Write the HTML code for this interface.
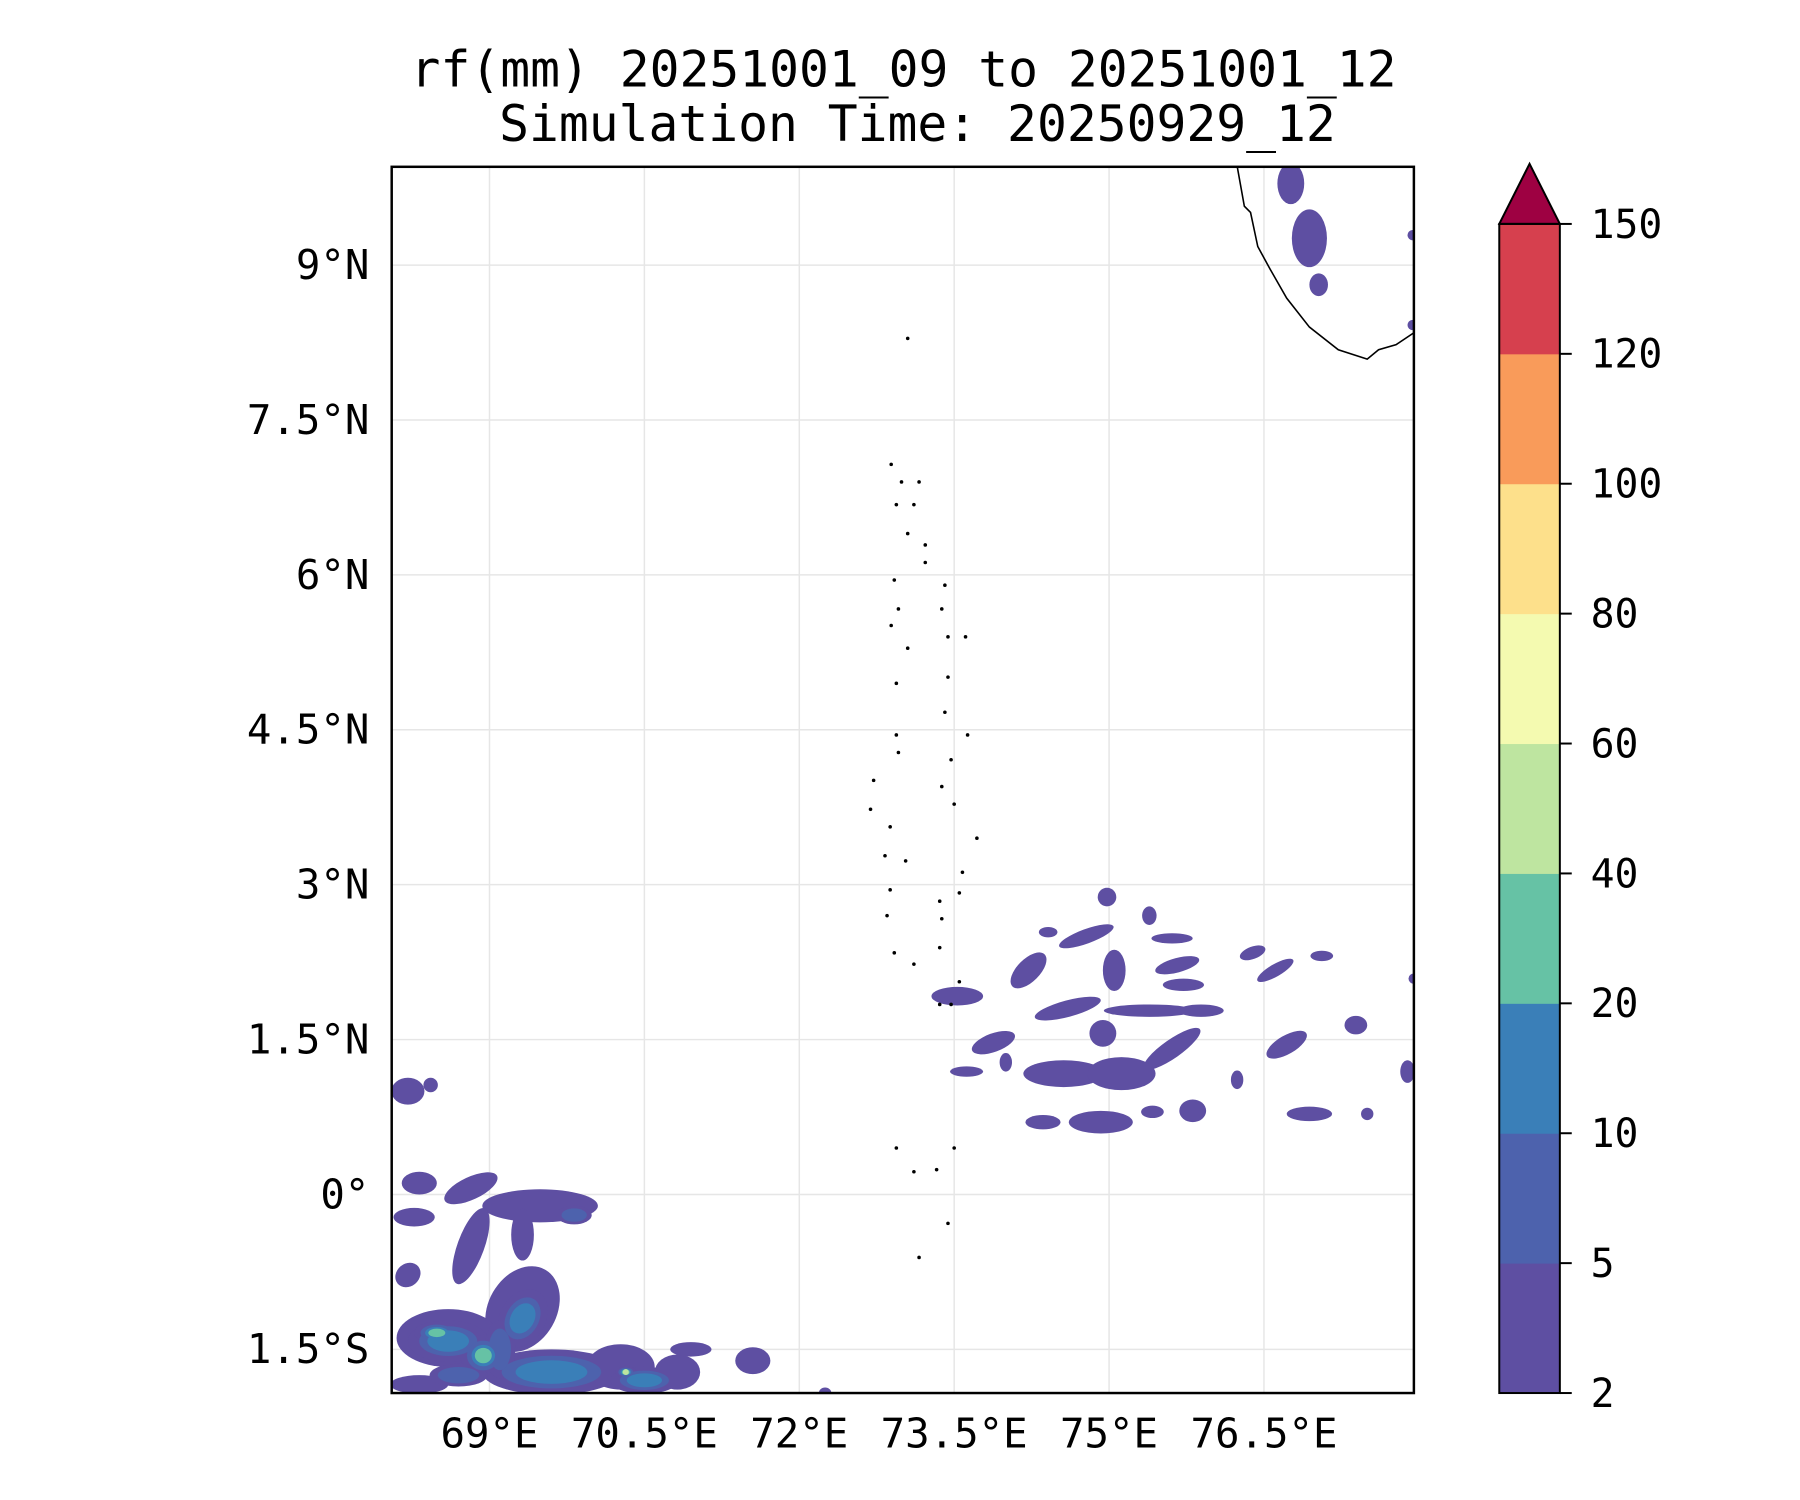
<!DOCTYPE html>
<html><head><meta charset="utf-8"><style>
html,body{margin:0;padding:0;background:#fff}
svg{display:block}
text{font-family:"DejaVu Sans Mono","Liberation Mono",monospace;fill:#000}
</style></head><body>
<svg id="chart" width="1800" height="1500" viewBox="0 0 1800 1500">
<g transform="scale(0.9929)">
<text x="910" y="87" font-size="50" text-anchor="middle">rf(mm) 20251001_09 to 20251001_12</text>
<text x="924" y="142" font-size="50" text-anchor="middle">Simulation Time: 20250929_12</text>
<defs><clipPath id="pc"><rect x="394.5" y="168" width="1029.5" height="1235"/></clipPath></defs>
<g id="grid"></g>
<g id="rain" clip-path="url(#pc)"></g>
<g id="coast" clip-path="url(#pc)"></g>
<rect x="394.5" y="168" width="1029.5" height="1235" fill="none" stroke="#000" stroke-width="2.5"/>
<g id="ticks"></g>
<g id="cbar"></g>
</g>
</svg>
<script>
const lonTicks=[69,70.5,72,73.5,75,76.5];
const lonLabels=["69°E","70.5°E","72°E","73.5°E","75°E","76.5°E"];
const latTicks=[9,7.5,6,4.5,3,1.5,0,-1.5];
const latLabels=["9°N","7.5°N","6°N","4.5°N","3°N","1.5°N","0°","1.5°S"];
const levels=[2,5,10,20,40,60,80,100,120,150];
const levelColors=["#5e4fa2","#4d62ad","#3a7fb8","#66c2a5","#bee5a0","#f4fab0","#fde08b","#f99b5a","#d6404e"];
const extendColor="#9e0142";
// rain cells: lon, lat, half-width (deg), half-height (deg), rotation, level index
const cellLon=[76.76,76.94,77.03,77.94,77.94,74.98,75.39,74.78,74.41,76.39,77.06,75.61,74.22,75.05,75.66,75.72,76.61,73.53,74.6,75.39,75.89,77.39,73.88,74.94,75.61,76.72,74.56,75.12,73.62,74.0,77.89,76.24,74.36,74.92,75.81,76.94,75.42,77.5,77.95,
68.27,68.21,68.43,68.32,68.82,69.49,69.82,68.82,69.32,68.21,69.32,69.32,68.6,68.6,68.49,68.94,69.6,70.27,70.5,70.32,70.82,71.55,68.32,68.7,70.95,72.25,69.1];
const cellLat=[9.79,9.26,8.81,9.29,8.42,2.88,2.70,2.50,2.54,2.34,2.31,2.48,2.17,2.17,2.22,2.03,2.17,1.92,1.80,1.78,1.78,1.64,1.47,1.56,1.41,1.45,1.17,1.17,1.19,1.28,1.19,1.11,0.70,0.70,0.81,0.78,0.80,0.78,2.09,
-0.22,1.0,1.06,0.11,0.06,-0.11,-0.2,-0.5,-0.39,-0.78,-1.11,-1.2,-1.39,-1.42,-1.34,-1.56,-1.72,-1.67,-1.8,-1.72,-1.72,-1.61,-1.84,-1.75,-1.5,-1.92,-1.5];
const cellRx=[0.13,0.17,0.09,0.05,0.05,0.09,0.07,0.28,0.09,0.13,0.11,0.2,0.22,0.11,0.22,0.2,0.2,0.25,0.33,0.44,0.22,0.11,0.22,0.13,0.33,0.22,0.39,0.33,0.16,0.06,0.07,0.06,0.17,0.31,0.13,0.22,0.11,0.06,0.05,
0.2,0.16,0.07,0.17,0.28,0.56,0.17,0.13,0.11,0.13,0.33,0.22,0.5,0.39,0.22,0.22,0.67,0.33,0.33,0.1,0.22,0.17,0.28,0.28,0.2,0.06,0.15];
const cellRy=[0.2,0.28,0.11,0.05,0.05,0.09,0.09,0.07,0.05,0.06,0.05,0.05,0.11,0.2,0.07,0.06,0.06,0.09,0.08,0.06,0.06,0.09,0.09,0.13,0.09,0.09,0.13,0.16,0.05,0.09,0.11,0.09,0.07,0.11,0.11,0.07,0.06,0.06,0.05,
0.09,0.13,0.07,0.11,0.11,0.16,0.09,0.39,0.25,0.11,0.44,0.3,0.28,0.2,0.11,0.2,0.22,0.22,0.13,0.06,0.17,0.13,0.09,0.11,0.07,0.05,0.28];
const cellRot=[0,0,0,0,0,0,0,-20,0,-20,0,0,-45,0,-15,0,-30,0,-15,0,0,0,-20,0,-35,-30,0,0,0,0,0,0,0,0,0,0,0,0,0,
0,0,0,0,-25,0,0,20,0,-40,30,30,0,0,0,0,0,0,0,0,0,0,0,0,0,0,0];
const cellLevel=[0,0,0,0,0,0,0,0,0,0,0,0,0,0,0,0,0,0,0,0,0,0,0,0,0,0,0,0,0,0,0,0,0,0,0,0,0,0,0,
0,0,0,0,0,0,1,0,0,0,0,2,0,2,3,3,2,0,2,4,0,0,0,1,0,0,1];
const coastLon=[76.24,76.31,76.37,76.44,76.56,76.72,76.94,77.22,77.5,77.61,77.78,77.96];
const coastLat=[9.96,9.57,9.51,9.18,8.96,8.68,8.40,8.18,8.09,8.18,8.23,8.35];
const isleLon=[72.89,72.99,73.16,73.11,72.94,73.05,73.22,73.22,72.92,72.96,73.41,73.38,72.89,73.05,73.44,73.61,72.94,73.44,73.41,73.63,72.94,73.47,72.96,73.38,72.72,72.69,72.88,73.5,73.72,72.83,73.03,73.58,72.88,73.36,73.55,72.85,73.38,72.92,73.11,73.36,73.55,73.36,73.47,72.94,73.11,73.33,73.5,73.44,73.16,73.05];
const isleLat=[7.07,6.9,6.9,6.68,6.68,6.4,6.29,6.12,5.95,5.67,5.9,5.67,5.51,5.29,5.4,5.4,4.95,5.01,4.67,4.45,4.45,4.21,4.28,3.95,4.01,3.73,3.56,3.78,3.45,3.28,3.23,3.12,2.95,2.84,2.92,2.7,2.67,2.34,2.23,2.39,2.06,1.84,1.84,0.45,0.22,0.24,0.45,-0.28,-0.61,8.29];

const NS='http://www.w3.org/2000/svg';
const X=lon=>493+(lon-69)*104;
const Y=lat=>1203-lat*104;
const CB=v=>{let i=levels.findIndex((l,k)=>v<=levels[k+1]||k===levels.length-1);i=Math.min(i,levels.length-2);return 1403-(i+(v-levels[i])/(levels[i+1]-levels[i]))*130.83;};
function mk(tag,parent,attrs){const e=document.createElementNS(NS,tag);for(const k in attrs)e.setAttribute(k,attrs[k]);parent.appendChild(e);return e;}
const grid=document.getElementById('grid');
lonTicks.forEach(v=>{const l=mk('line',grid,{x1:X(v),x2:X(v),y1:168,y2:1403,stroke:'#e6e6e6','stroke-width':1.5});

});
latTicks.forEach(v=>{const l=mk('line',grid,{x1:394.5,x2:1424,y1:Y(v),y2:Y(v),stroke:'#e6e6e6','stroke-width':1.5});

});
const rain=document.getElementById('rain');
for(let lv=0;lv<5;lv++){
 for(let i=0;i<cellLon.length;i++){
  if(cellLevel[i]<lv)continue;
  const f=lv===0?1:Math.pow(0.72,lv);
  const e=mk('ellipse',rain,{cx:X(cellLon[i]),cy:Y(cellLat[i]),rx:Math.max(3,cellRx[i]*104*f),ry:Math.max(3,cellRy[i]*104*f),fill:levelColors[lv],transform:`rotate(${cellRot[i]} ${X(cellLon[i])} ${Y(cellLat[i])})`});
  
  
 }
}
const coast=document.getElementById('coast');
const cp=mk('polyline',coast,{points:coastLon.map((v,i)=>X(v)+','+Y(coastLat[i])).join(' '),fill:'none',stroke:'#000','stroke-width':1.6});


isleLon.forEach((v,i)=>{const d=mk('circle',coast,{cx:X(v),cy:Y(isleLat[i]),r:1.8,fill:'#000'});

});
const ticks=document.getElementById('ticks');
lonTicks.forEach((v,i)=>{const t=mk('text',ticks,{x:X(v),y:1458,'font-size':41,'text-anchor':'middle'});t.textContent=lonLabels[i];

});
latTicks.forEach((v,i)=>{const t=mk('text',ticks,{x:372,y:Y(v)+14,'font-size':41,'text-anchor':'end'});t.textContent=latLabels[i];

});
const cb=document.getElementById('cbar');
for(let i=0;i<levelColors.length;i++){const r=mk('rect',cb,{x:1510,y:CB(levels[i+1]),width:61,height:CB(levels[i])-CB(levels[i+1])+0.5,fill:levelColors[i]});

}
const tri=mk('polygon',cb,{points:`1510,${CB(150)} 1571,${CB(150)} 1540.5,165`,fill:extendColor,stroke:'#000','stroke-width':2});


const fr=mk('rect',cb,{x:1510,y:CB(150),width:61,height:1403-CB(150),fill:'none',stroke:'#000','stroke-width':2});


levels.forEach(v=>{mk('line',cb,{x1:1571,x2:1583,y1:CB(v),y2:CB(v),stroke:'#000','stroke-width':2});
const t=mk('text',cb,{x:1602,y:CB(v)+14,'font-size':40});t.textContent=v;

});
</script>
</body></html>
